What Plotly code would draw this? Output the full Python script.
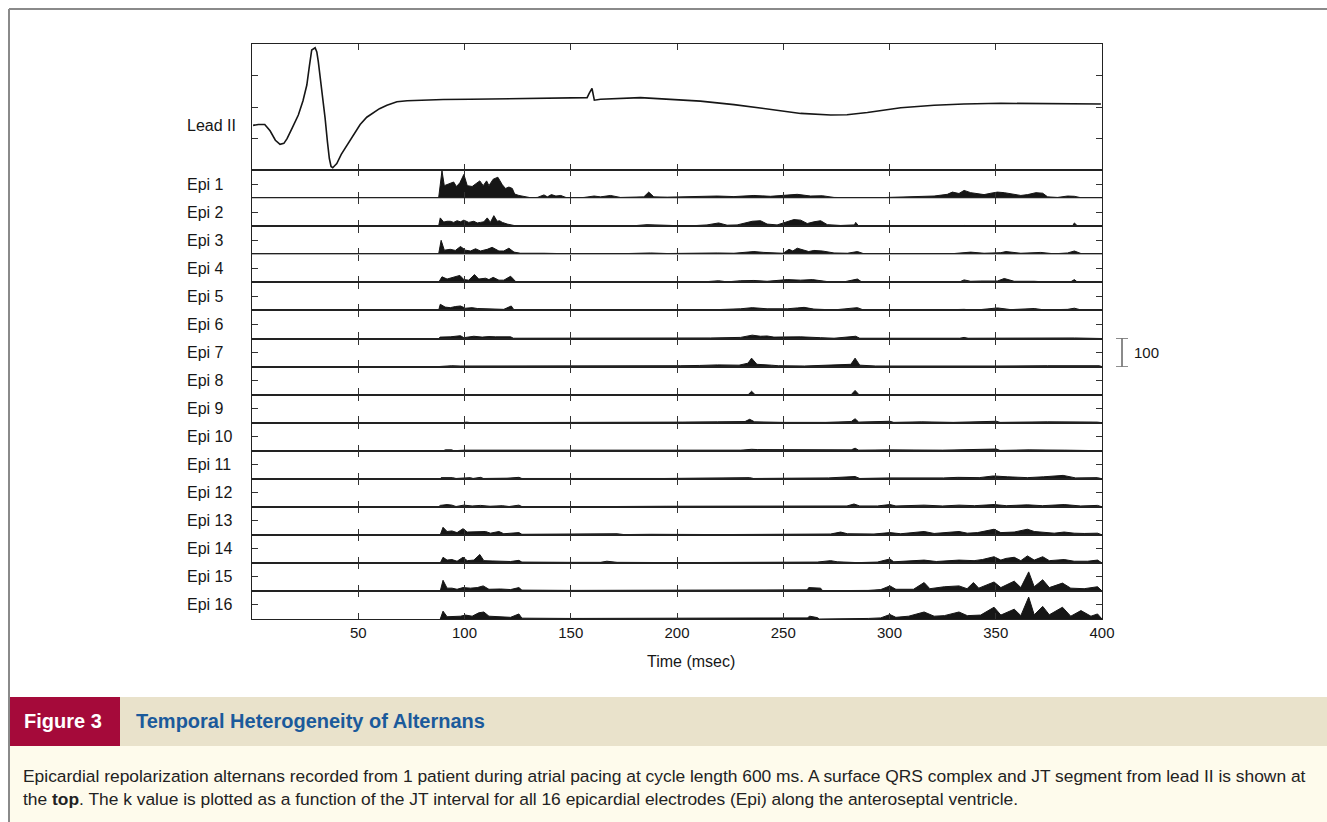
import plotly.graph_objects as go
from plotly.subplots import make_subplots

# ---------------- data ----------------
x_ticks = [50, 100, 150, 200, 250, 300, 350, 400]
x_range = [0, 400]

lead_t = [0.5, 3, 6, 8.5, 11, 13.2, 15, 16.5, 19, 21.8, 24, 25.8, 27, 28.1, 29.7, 30.5, 31.2, 33, 34.4,
          35.5, 36.4, 37.2, 38, 39, 39.9, 42, 44.6, 47.5, 50.9, 54, 57.2, 60, 63.5, 68.2, 73, 79.2, 90,
          102.7, 120, 140, 157.7, 158.8, 160, 161.1, 164, 182.8, 195, 211, 226.8, 245.6, 258.2, 272.3,
          280, 289.6, 305.3, 321, 335, 352.4, 375, 399.5]
lead_v = [1.42, 1.45, 1.45, 1.25, 0.95, 0.82, 0.85, 1.0, 1.35, 1.75, 2.2, 2.7, 3.3, 3.81, 3.88, 3.75, 3.44,
          2.5, 1.65, 0.9, 0.37, 0.12, 0.08, 0.15, 0.21, 0.5, 0.79, 1.1, 1.45, 1.68, 1.83, 1.95, 2.06, 2.17,
          2.2, 2.22, 2.24, 2.25, 2.26, 2.28, 2.30, 2.45, 2.59, 2.22, 2.25, 2.30, 2.26, 2.19, 2.08, 1.90,
          1.80, 1.75, 1.76, 1.83, 1.98, 2.06, 2.10, 2.12, 2.10, 2.10]

epi1 = [(87.8,0),(88.6,60),(89.4,98),(90.5,45),(92.6,50),(94.9,58),(96.2,42),(97.8,55),(99.7,85),(101.3,45),
        (103.6,42),(105.2,50),(107.2,62),(108.8,45),(110.4,62),(111.5,45),(113.5,68),(115.7,75),(117.8,48),
        (119.3,35),(120.9,40),(122.5,35),(123.6,15),(125.6,10),(128,6),(131.1,2),(134.3,3),(137.4,12),(139,5),
        (140.9,13),(143,8),(145.3,10),(147.7,3),(150,0),(156.3,3),(161,8),(164,5),(168.7,10),(173.4,3),
        (179.6,3),(184.4,5),(186.7,22),(189.1,5),(195.4,4),(201.6,5),(211,5),(218.9,8),(226.8,6),(236.2,10),
        (244,7),(251.9,12),(256.6,14),(262.9,8),(268.4,9),(273.9,3),(283.3,2),(292.7,0),(299,3),(305.3,4),
        (314.7,5),(321,8),(327.2,14),(329.6,22),(332.7,17),(335.1,28),(338.2,20),(341.4,17),(344.5,13),
        (347.7,18),(350.8,22),(354,20),(357.9,14),(361.8,10),(365,13),(368.9,20),(372.1,18),(374.4,5),
        (379.1,3),(383.8,8),(387,7),(390.1,2),(394.8,1),(400,0)]
epi2 = [(87.8,0),(88.6,30),(90.2,15),(91.8,18),(93.3,18),(94.9,14),(96.5,20),(98.1,16),(99.7,22),(102,14),
        (104.4,18),(106,12),(107.5,14),(109.1,16),(110.7,30),(112.2,14),(113.8,38),(115.4,18),(116.5,20),
        (117.8,14),(120.1,8),(123.3,3),(128,1),(134.3,1),(142.1,1),(150,0),(161,2),(164,1),(173.4,1),
        (179.6,2),(185.9,6),(190.6,5),(193.7,3),(201.6,2),(209.4,3),(214.1,5),(219.6,12),(223.6,4),(228.3,5),
        (235.4,18),(239.3,20),(242.4,8),(247.1,5),(251.9,18),(255,24),(258.2,22),(261.3,10),(264.4,16),
        (267.6,20),(270.7,6),(277,3),(283.5,5),(284.1,14),(285.6,0),(333,0),(335.1,3),(339.8,2),(341,0),
        (351,0),(352.4,2),(354,0),(367,0),(368.1,2),(370,0),(386,0),(387,12),(388.6,0),(400,0)]
epi3 = [(87.8,0),(89,50),(90.5,15),(91.8,16),(93.3,18),(95.7,14),(98.1,28),(100.5,15),(102.8,12),(105.2,20),
        (107.5,12),(110.7,18),(113,25),(116.2,12),(118.5,12),(120.9,22),(123.3,8),(126.4,4),(131.1,3),
        (137.4,4),(143.7,3),(148.4,2),(151.5,0),(159.4,2),(164,3),(171.8,2),(179.6,4),(187.5,5),(195.4,3),
        (203.2,4),(211,3),(218.9,5),(226.8,4),(236.2,10),(240.9,7),(245.6,5),(250,4),(252.7,18),(254.5,12),
        (256.6,22),(259.8,15),(262,10),(264.4,14),(268.4,12),(273.9,5),(280.2,4),(284.9,10),(288,2),
        (294.3,1),(305.3,0),(317.9,1),(330.4,3),(338.2,8),(344.5,4),(352.4,6),(354.8,10),(361.8,4),
        (371.2,7),(377.4,2),(383.8,5),(387,12),(390.1,3),(396.4,1),(400,0)]
epi4 = [(87.8,0),(89.4,20),(91.8,12),(94.9,18),(97.8,25),(99.7,10),(102,8),(104.7,28),(106.7,12),(109.9,15),
        (111.5,10),(113.5,18),(116.2,8),(118.5,8),(121.7,22),(124.1,3),(128,2),(134.3,1),(140.6,2),(150,0),
        (165.7,1),(187.5,2),(201.6,1),(212.6,2),(219.6,6),(223.6,2),(229.9,6),(236.2,7),(242.4,4),
        (251.9,10),(258.2,8),(263.7,10),(270.7,3),(278.6,2),(284.9,12),(287.3,0),(321,1),(333,2),(335.1,9),
        (338.2,4),(342.9,5),(350.8,5),(354,14),(358.7,4),(368.1,4),(372.8,2),(385,1),(387,10),(388.6,0),
        (400,0)]
epi5 = [(87.8,0),(88.6,22),(90.9,12),(93.3,10),(95.7,14),(98.1,16),(100.5,8),(103.6,10),(106,7),(109.9,6),
        (112.2,8),(115.4,7),(118.5,4),(122,16),(123.3,2),(131.1,1),(142.1,1),(165.7,1),(185.9,3),(201.6,2),
        (218.9,3),(229.9,6),(235.4,10),(242.4,6),(251.9,6),(256.6,9),(259.8,11),(264.4,5),(273.9,2),
        (284.9,10),(288,1),(320,1),(335.1,4),(340,1),(350.8,9),(357.1,3),(368.1,7),(372.8,2),(383.8,4),
        (387,8),(390.1,2),(400,0)]
epi6 = [(87.8,0),(88.6,5),(93.3,6),(98.1,10),(99.7,3),(104.4,8),(108.3,5),(111.5,7),(114.6,6),(117.8,5),
        (121.7,6),(123,1),(200,1),(204.8,2),(215.7,2),(229.9,4),(235.4,12),(239.3,8),(242.4,9),(245.6,5),
        (253.4,6),(258.2,6),(267.6,3),(273.9,1),(284.1,8),(286,1),(333,1),(335.1,4),(337,1),(352.4,2),
        (368.1,2),(387,2),(400,0)]
epi7 = [(87.8,0),(90,2),(94,3),(98,2),(104,2),(110,2),(125,1),(145,1),(164,1),(190,2),(201.5,3),(210.7,4),
        (219.1,6),(229.2,5),(233.4,12),(235.1,30),(237.6,8),(244.4,5),(247.7,3),(260,2),(281.8,8),
        (283.8,30),(286,5),(293.5,2),(320,1),(350,2),(374.3,3),(398.7,3),(400,0)]
epi8 = [(0,0),(200,0),(202.4,2),(204,0),(218,0),(219.1,2),(221,0),(226,0),(227.6,2),(229,0),(233.5,0),
        (235.1,12),(236.7,0),(282,0),(283.8,15),(285.6,0),(358,0),(359.2,1),(361,0),(390,0),(391.2,1),
        (393,0),(400,0)]
epi9 = [(99,0),(101,2),(103,0),(122,0),(124,2),(126,0),(150,0),(152,1),(164,1),(190,1),(202.4,2),(219.1,3),
        (232,4),(234.2,12),(236.5,3),(250,1),(270,1),(282,4),(283.8,14),(285.5,2),(300.2,5),(302,1),
        (315.2,3),(330,1),(345,2),(350.3,5),(352,1),(374.3,3),(397.8,2),(400,0)]
epi10 = [(90,0),(91,3),(94,3),(95,0),(100,2),(104,2),(107,3),(114,2),(120,3),(126,2),(132,2),(150,1),
         (194.1,3),(214.1,2),(230,2),(235.1,5),(238,4),(282,3),(283.8,9),(285.5,2),(300.2,3),(325,2),
         (350.3,6),(352,1),(365.7,3),(382.5,2),(400,0)]
epi11 = [(88.5,0),(89,4),(94.4,4),(96,1),(102.8,4),(104,1),(107.5,5),(109,1),(120,2),(125.6,5),(127,1),
         (150,1),(194,1),(234.2,4),(236,1),(271.2,3),(283.8,8),(286,1),(300.2,3),(325.4,3),(332.1,5),
         (342.2,4),(348.9,10),(355.6,7),(364.9,4),(372.5,7),(381.7,12),(387.6,3),(397.8,4),(400,0)]
epi12 = [(87.8,0),(88.6,5),(91.8,8),(94.1,6),(96,1),(99.7,6),(103.6,3),(107.5,5),(112,2),(117.8,4),(121,1),
         (125.6,6),(127,1),(145,2),(150,1),(160,2),(170,1),(195,2),(201.6,2),(226.8,2),(251,2),(272.3,4),
         (280,3),(283.3,10),(286,3),(294.3,3),(300.2,8),(303,3),(316.3,6),(325,3),(332.7,6),(340,4),
         (349.2,8),(355,4),(364.9,7),(372,4),(382.2,8),(390,3),(397.9,5),(400,0)]
epi13 = [(88.6,0),(89.9,27),(91.8,12),(94.1,14),(96.5,8),(99.3,22),(101.3,10),(106,10),(109.9,12),
         (112.2,6),(116.2,12),(118.5,4),(125.6,8),(127,2),(150,2),(160,2),(171.8,4),(175,1),(187.5,2),
         (220,1),(251,2),(272.3,3),(277,10),(280.2,4),(292.7,3),(300.2,8),(305.3,4),(316.3,12),(321,5),
         (332.7,12),(336.6,6),(341.4,8),(349.2,20),(352.4,8),(358.7,10),(364.9,20),(368.1,12),(372.8,10),
         (377.5,6),(382.2,10),(386.9,6),(391.6,5),(397.9,6),(400,0)]
epi14 = [(88.6,0),(89.9,20),(91.8,10),(94.1,12),(96.5,6),(99.3,20),(101.3,8),(104.4,10),(107.2,30),
         (109.1,8),(113,7),(116.9,6),(121.7,5),(125.6,9),(127,3),(150,2),(164,2),(167,6),(171.8,2),(200,1),
         (250,1),(266,3),(272.3,8),(275.4,4),(285,1),(294.3,3),(300.2,14),(302,4),(316.3,10),(322,5),
         (332.7,10),(339.8,8),(343.7,12),(349.2,22),(352.4,10),(354.8,16),(358.7,20),(361.8,8),(364.9,25),
         (368.1,10),(372.1,22),(375.2,8),(382.2,12),(386.9,6),(393.2,6),(397.9,10),(400,0)]
epi15 = [(88.6,0),(89.9,38),(91.8,10),(94.1,10),(96.5,6),(99.3,12),(102.8,10),(106,12),(108.8,18),
         (111.5,6),(116.9,7),(121.7,5),(125.6,12),(127,3),(150,2),(164,2),(187,2),(201.6,2),(210,3),
         (225,3),(250.4,2),(261.3,4),(262,12),(267.6,10),(268.5,1),(290,2),(295.9,5),(300.2,18),(303,6),
         (311.3,6),(316.3,30),(319,8),(325.8,15),(332.7,18),(336.5,8),(339.5,30),(342,10),(349.2,32),
         (352.4,12),(358.7,35),(361.8,12),(365.5,68),(368.1,15),(372.1,40),(375.2,12),(381.4,28),
         (385.3,10),(391.6,8),(397.9,15),(400,0)]
epi16 = [(88.6,0),(89.9,28),(91.8,8),(94.1,8),(98.1,10),(100.5,14),(103.6,10),(106.7,22),(109.1,25),
         (111.5,10),(116.2,8),(121.7,6),(125.6,18),(127,3),(150,2),(201.6,3),(250,2),(261.3,4),(262.5,10),
         (266,5),(267,0),(288,0),(290,2),(295.9,4),(300.2,16),(303,6),(309,10),(316.3,25),(321,10),
         (325.8,12),(332.7,25),(336.6,12),(342.9,14),(349.2,42),(352.4,14),(358.7,35),(361.8,12),
         (365.5,78),(368.1,15),(372.1,45),(375.2,15),(381.4,42),(385.3,10),(390.1,30),(394.8,10),
         (397.9,18),(400,0)]

epi_series = [epi1, epi2, epi3, epi4, epi5, epi6, epi7, epi8,
              epi9, epi10, epi11, epi12, epi13, epi14, epi15, epi16]
epi_labels = ["Epi %d" % i for i in range(1, 17)]
lead_label = "Lead II"
x_title = "Time (msec)"
scale_value = 100

fig_label = "Figure 3"
fig_title = "Temporal Heterogeneity of Alternans"
caption_1 = ("Epicardial repolarization alternans recorded from 1 patient during atrial pacing at cycle length "
             "600 ms. A surface QRS complex and JT segment from lead II is shown at")
caption_2 = ("the <b>top</b>. The k value is plotted as a function of the JT interval for all 16 epicardial "
             "electrodes (Epi) along the anteroseptal ventricle.")

# ---------------- layout helpers ----------------
W, H = 1327, 822
L, R, T, B = 252, 1102, 44, 619          # plot area in page pixels
def xp(px):
    return (px - L) / (R - L)
def yp(py):
    return (B - py) / (B - T)

FONT = "Liberation Sans, Arial, Helvetica, sans-serif"
INK = "#161616"

n = len(epi_series)
fig = make_subplots(rows=n + 1, cols=1, shared_xaxes=False, vertical_spacing=0,
                    row_heights=[126] + [28] * n)

fig.add_trace(go.Scatter(x=lead_t, y=lead_v, mode="lines",
                         line=dict(color=INK, width=1.6), hoverinfo="skip"), row=1, col=1)
for i, s in enumerate(epi_series):
    fig.add_trace(go.Scatter(x=[p[0] for p in s], y=[p[1] for p in s], mode="lines",
                             fill="tozeroy", fillcolor=INK,
                             line=dict(color=INK, width=1), hoverinfo="skip"),
                  row=i + 2, col=1)

axis_common = dict(showgrid=False, zeroline=False, showline=True, linecolor="#222",
                   linewidth=1.4, ticks="inside", ticklen=6, tickwidth=1, tickcolor="#333",
                   mirror="ticks")
for r in range(1, n + 2):
    fig.update_xaxes(range=x_range, tickvals=x_ticks, showticklabels=(r == n + 1),
                     tickfont=dict(family=FONT, size=15, color=INK), **axis_common, row=r, col=1)
    if r == 1:
        fig.update_yaxes(range=[0, 4], tickvals=[1, 2, 3], showticklabels=False,
                         **axis_common, row=r, col=1)
    else:
        fig.update_yaxes(range=[0, 100], tickvals=[50], showticklabels=False,
                         **axis_common, row=r, col=1)

ann = []
ann.append(dict(x=xp(185), y=1.43, xref="paper", yref="y", text=lead_label, showarrow=False,
                xanchor="left", yanchor="middle", font=dict(family=FONT, size=16, color=INK)))
for i, lab in enumerate(epi_labels):
    ann.append(dict(x=xp(185), y=50, xref="paper", yref="y%d" % (i + 2), text=lab, showarrow=False,
                    xanchor="left", yanchor="middle", font=dict(family=FONT, size=16, color=INK)))
ann.append(dict(x=xp(691), y=yp(661), xref="paper", yref="paper", text=x_title, showarrow=False,
                xanchor="center", yanchor="middle", font=dict(family=FONT, size=16, color=INK)))
# scale bar label
ann.append(dict(x=xp(1132), y=scale_value / 2, xref="paper", yref="y8", text=str(scale_value),
                showarrow=False, xanchor="left", yanchor="middle",
                font=dict(family=FONT, size=15, color=INK)))
# caption texts
ann.append(dict(x=xp(63), y=yp(721), xref="paper", yref="paper", text="<b>%s</b>" % fig_label,
                showarrow=False, xanchor="center", yanchor="middle",
                font=dict(family=FONT, size=20, color="white")))
ann.append(dict(x=xp(134), y=yp(721), xref="paper", yref="paper", text="<b>%s</b>" % fig_title,
                showarrow=False, xanchor="left", yanchor="middle",
                font=dict(family=FONT, size=20, color="#1B5A9B")))
ann.append(dict(x=xp(21), y=yp(776), xref="paper", yref="paper", text=caption_1,
                showarrow=False, xanchor="left", yanchor="middle",
                font=dict(family=FONT, size=17.4, color="#222")))
ann.append(dict(x=xp(21), y=yp(799), xref="paper", yref="paper", text=caption_2,
                showarrow=False, xanchor="left", yanchor="middle",
                font=dict(family=FONT, size=17.4, color="#222")))

shapes = []
# caption panels
shapes.append(dict(type="rect", xref="paper", yref="paper", x0=xp(10), x1=xp(1327), y0=yp(822), y1=yp(746),
                   fillcolor="#FEFBEC", line=dict(width=0), layer="below"))
shapes.append(dict(type="rect", xref="paper", yref="paper", x0=xp(120), x1=xp(1327), y0=yp(746), y1=yp(697),
                   fillcolor="#E9E2CB", line=dict(width=0), layer="below"))
shapes.append(dict(type="rect", xref="paper", yref="paper", x0=xp(10), x1=xp(120), y0=yp(746), y1=yp(697),
                   fillcolor="#A50A3A", line=dict(width=0), layer="below"))
# outer frame
shapes.append(dict(type="line", xref="paper", yref="paper", x0=xp(9), x1=xp(1327), y0=yp(9), y1=yp(9),
                   line=dict(color="#8a8a8a", width=2)))
shapes.append(dict(type="line", xref="paper", yref="paper", x0=xp(9), x1=xp(9), y0=yp(9), y1=yp(822),
                   line=dict(color="#8a8a8a", width=2)))
# scale bar (spans 0..100 on the Epi 7 axis)
shapes.append(dict(type="line", xref="paper", yref="y8", x0=xp(1122), x1=xp(1122), y0=0, y1=scale_value,
                   line=dict(color=INK, width=1)))
shapes.append(dict(type="line", xref="paper", yref="y8", x0=xp(1116), x1=xp(1128), y0=0, y1=0,
                   line=dict(color=INK, width=1)))
shapes.append(dict(type="line", xref="paper", yref="y8", x0=xp(1116), x1=xp(1128), y0=scale_value,
                   y1=scale_value, line=dict(color=INK, width=1)))

fig.update_layout(width=W, height=H,
                  margin=dict(l=L, r=W - R, t=T, b=H - B, autoexpand=False),
                  paper_bgcolor="white", plot_bgcolor="white", showlegend=False,
                  annotations=ann, shapes=shapes, font=dict(family=FONT))

# remove the browser's default 8px body margin so the 1327x822 figure fills the window
fig.write_html("out.html", config={"displayModeBar": False},
               post_script="document.body.style.margin='0';document.body.style.overflow='hidden';")
